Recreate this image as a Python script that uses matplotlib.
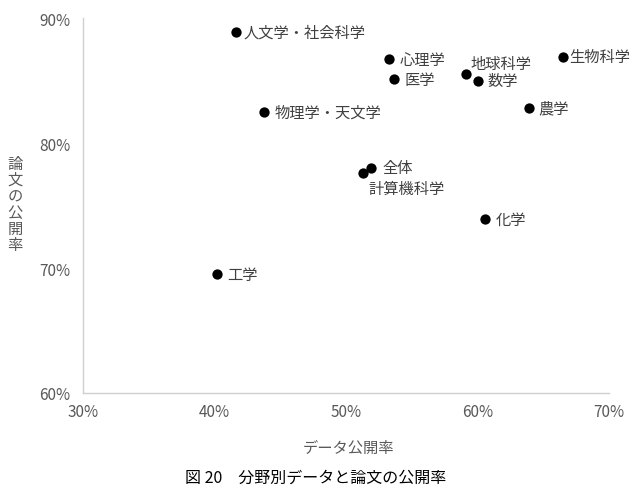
import matplotlib
matplotlib.use("Agg")
import matplotlib.pyplot as plt
from matplotlib.ticker import PercentFormatter

plt.rcParams['font.family'] = ['Noto Sans CJK JP', 'DejaVu Sans']

fields = ["人文学・社会科学", "心理学", "医学", "地球科学", "数学", "生物科学",
          "農学", "物理学・天文学", "全体", "計算機科学", "化学", "工学"]
data_rate = [41.6, 53.3, 53.65, 59.1, 60.0, 66.5, 63.9, 43.8, 51.9, 51.3, 60.6, 40.2]
paper_rate = [88.9, 86.7, 85.1, 85.5, 85.0, 86.9, 82.8, 82.5, 78.0, 77.6, 73.9, 69.5]
x_ticks = [30, 40, 50, 60, 70]
y_ticks = [60, 70, 80, 90]

label_offsets = {"地球科学": (5, 11), "計算機科学": (5, -15),
                 "全体": (11, 1), "人文学・社会科学": (8, 0), "生物科学": (6, 0)}

fig = plt.figure(figsize=(6.4, 4.89), dpi=100)
ax = fig.add_axes([0.1297, 0.1943, 0.8219, 0.7667])

ax.scatter(data_rate, paper_rate, s=55, color='black', zorder=3, linewidths=0)
for name, x, y in zip(fields, data_rate, paper_rate):
    dx, dy = label_offsets.get(name, (10, 0))
    ax.annotate(name, (x, y), xytext=(dx, dy), textcoords='offset pixels',
                ha='left', va='center', fontsize=11, color='#404040')

ax.set_xlim(30, 70)
ax.set_ylim(60, 90)
ax.set_xticks(x_ticks)
ax.set_yticks(y_ticks)
ax.xaxis.set_major_formatter(PercentFormatter(decimals=0))
ax.yaxis.set_major_formatter(PercentFormatter(decimals=0))
ax.tick_params(length=0, labelsize=11, colors='#595959')
ax.tick_params(axis='y', pad=9)
ax.tick_params(axis='x', pad=7)
for s in ['top', 'right']:
    ax.spines[s].set_visible(False)
for s in ['left', 'bottom']:
    ax.spines[s].set_color('#d0d0d0')
    ax.spines[s].set_linewidth(1)

fig.text(349/640, 1 - 448/489, "データ公開率", fontsize=11, color='#595959',
         ha='center', va='center')
fig.text(15/640, 1 - 205/489, "\n".join("論文の公開率"), fontsize=11, color='#595959',
         ha='center', va='center', linespacing=0.95)
fig.text(316/640, 1 - 478/489, "図 20　分野別データと論文の公開率", fontsize=11.5,
         color='black', ha='center', va='center')

fig.savefig("out.png", dpi=100)
